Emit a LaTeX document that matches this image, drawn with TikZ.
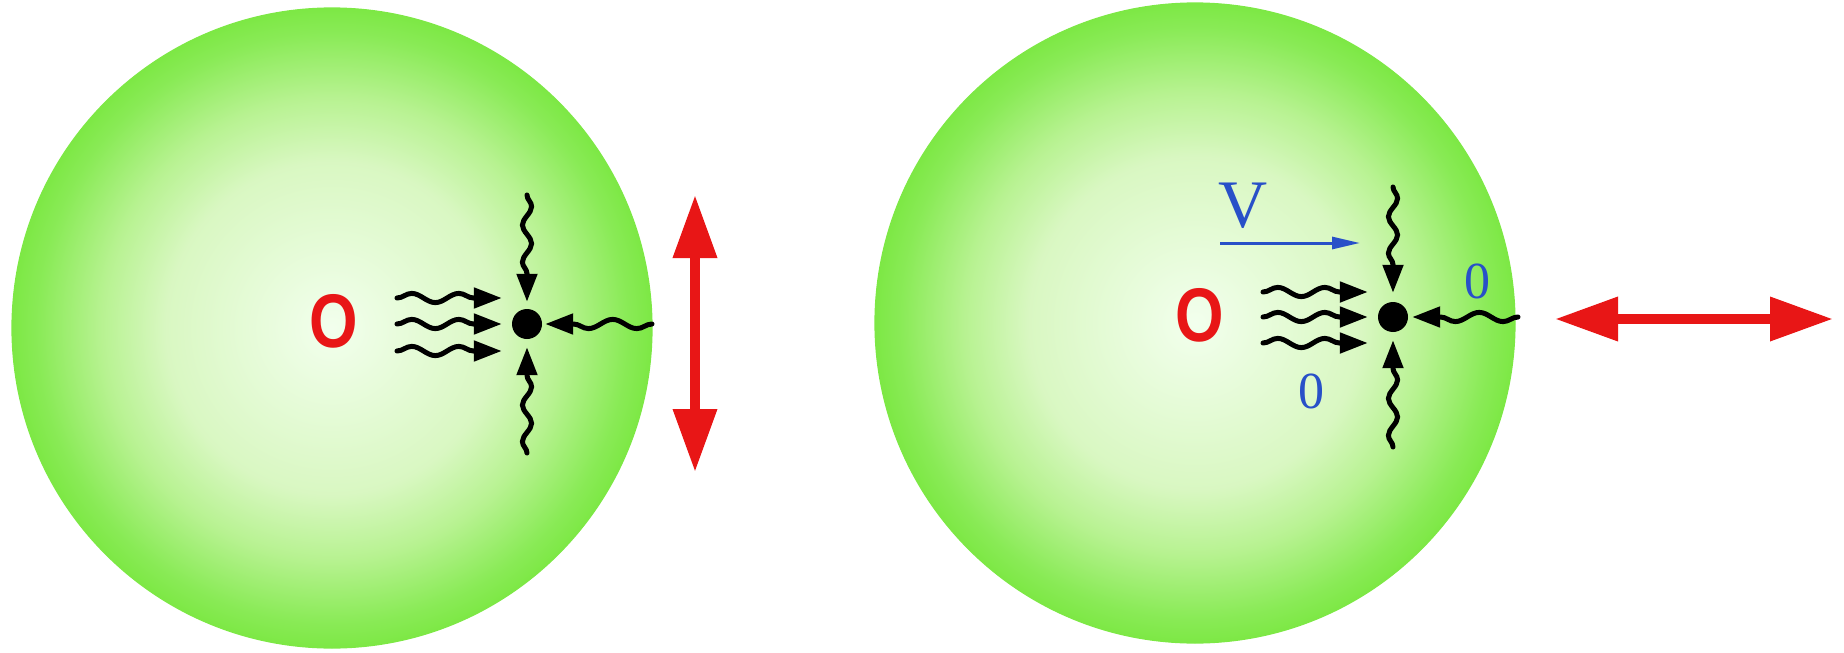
\documentclass[tikz,border=0pt]{standalone}
\usepackage{graphicx}
\usepackage{fontspec}
\setmainfont{Liberation Serif}
\newfontfamily\sansfam{Liberation Sans}
\usetikzlibrary{arrows.meta,decorations.pathmorphing,decorations.markings}
\definecolor{arrred}{RGB}{232,22,22}
\definecolor{txtblue}{RGB}{40,80,200}
\definecolor{edgegreen}{rgb}{0.49,0.91,0.27}
\pgfdeclareradialshading{ballshade}{\pgfpoint{0bp}{0bp}}{%
  rgb(0bp)=(0.95,1,0.93);
  rgb(13bp)=(0.85,0.97,0.76);
  rgb(18bp)=(0.72,0.95,0.57);
  rgb(23bp)=(0.54,0.92,0.34);
  rgb(25bp)=(0.49,0.91,0.27);
  rgb(50bp)=(0.49,0.91,0.27)}
\tikzset{
  ball/.style={shading=ballshade, draw=edgegreen, line width=0.6pt},
  wave/.style={line width=2.5pt, line cap=round, shorten >=5pt, decorate,
    decoration={snake, amplitude=2.3pt, segment length=#1, post length=14pt},
    postaction={decorate, decoration={markings, pre length=0pt, post length=0pt,
      mark=at position 1 with {\arrow{Triangle[length=14pt,width=10pt]}}}}},
  wave/.default=23.57pt,
  dotnode/.style={circle, fill=black, minimum size=15pt, inner sep=0pt},
  bigarrow/.style={arrred, line width=5pt,
    {Triangle[length=31.5pt,width=21pt]}-{Triangle[length=31.5pt,width=21pt]}},
  vel/.style={txtblue, line width=1.5pt, -{Triangle[length=14pt,width=6pt]}},
  redO/.style={text=arrred, font=\sansfam\bfseries\fontsize{38}{38}\selectfont,
    inner sep=0pt, anchor=base},
  bluelab/.style={text=txtblue, inner sep=0pt, anchor=base},
}
\begin{document}
\begin{tikzpicture}[x=0.5pt, y=-0.5pt]
\useasboundingbox (0,0) rectangle (1844,653);
% balls
\shade[ball] (332,328) circle (320);
\shade[ball] (1195,323) circle (320);

% ---------- left panel ----------
\node[redO] (OL) at (334,347) {\scalebox{0.82}[1]{O}};
\node[dotnode] (dotL) at (527,324) {};
\coordinate (Lst) at (527,195); \coordinate (Let) at (527,302);
\coordinate (Lsb) at (527,453); \coordinate (Leb) at (527,347);
\coordinate (Lsr) at (652,324); \coordinate (Ler) at (545,324);
\coordinate (Ls1) at (397,298); \coordinate (Le1) at (502,298);
\coordinate (Ls2) at (397,324); \coordinate (Le2) at (502,324);
\coordinate (Ls3) at (397,351); \coordinate (Le3) at (502,351);
\draw[wave=18.5pt] (Lst) -- (Let);
\draw[wave=18.26pt] (Lsb) -- (Leb);
\draw[wave=24.19pt] (Lsr) -- (Ler);
\draw[wave] (Ls1) -- (Le1);
\draw[wave] (Ls2) -- (Le2);
\draw[wave] (Ls3) -- (Le3);
\coordinate (LA1) at (695,195); \coordinate (LA2) at (695,472);
\draw[bigarrow] (LA1) -- (LA2);

% ---------- right panel ----------
\node[redO] (OR) at (1200,341) {\scalebox{0.82}[1]{O}};
\node[dotnode] (dotR) at (1393,317) {};
\coordinate (Rst) at (1393,187); \coordinate (Ret) at (1393,293);
\coordinate (Rsb) at (1393,447); \coordinate (Reb) at (1393,340);
\coordinate (Rsr) at (1518,317); \coordinate (Rer) at (1412,317);
\coordinate (Rs1) at (1263,292); \coordinate (Re1) at (1368,292);
\coordinate (Rs2) at (1263,317); \coordinate (Re2) at (1368,317);
\coordinate (Rs3) at (1263,343); \coordinate (Re3) at (1368,343);
\draw[wave=18.26pt] (Rst) -- (Ret);
\draw[wave=18.5pt] (Rsb) -- (Reb);
\draw[wave=23.88pt] (Rsr) -- (Rer);
\draw[wave] (Rs1) -- (Re1);
\draw[wave] (Rs2) -- (Re2);
\draw[wave] (Rs3) -- (Re3);
\node[bluelab, font=\fontsize{34}{34}\selectfont] (V) at (1243,227) {V};
\coordinate (V1) at (1220,243); \coordinate (V2) at (1360,243);
\draw[vel] (V1) -- (V2);
\node[bluelab, font=\fontsize{26}{26}\selectfont] (zb) at (1311,408) {0};
\node[bluelab, font=\fontsize{26}{26}\selectfont] (zr) at (1477,298) {0};
\coordinate (RA1) at (1555,319); \coordinate (RA2) at (1833,319);
\draw[bigarrow] (RA1) -- (RA2);
\end{tikzpicture}
\end{document}
